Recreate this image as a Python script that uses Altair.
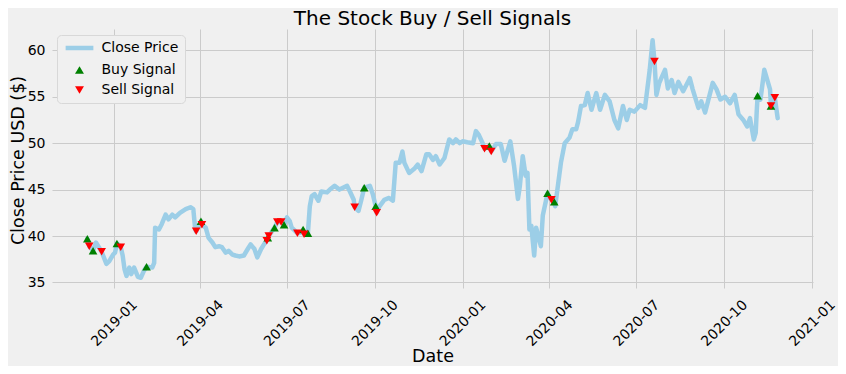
import altair as alt
import pandas as pd

# ---- data ----
line_dates = [
    "2018-12-04", "2018-12-06", "2018-12-10", "2018-12-13", "2018-12-19", "2018-12-24", "2018-12-27",
    "2018-12-31", "2019-01-02", "2019-01-04", "2019-01-08", "2019-01-10", "2019-01-12", "2019-01-14",
    "2019-01-17", "2019-01-19", "2019-01-22", "2019-01-26", "2019-01-29", "2019-02-01", "2019-02-04",
    "2019-02-10", "2019-02-12", "2019-02-13", "2019-02-17", "2019-02-20", "2019-02-24", "2019-02-27",
    "2019-03-03", "2019-03-06", "2019-03-11", "2019-03-17", "2019-03-22", "2019-03-25", "2019-03-27",
    "2019-03-28", "2019-04-02", "2019-04-03", "2019-04-07", "2019-04-10", "2019-04-14", "2019-04-17",
    "2019-04-21", "2019-04-24", "2019-04-28", "2019-05-01", "2019-05-05", "2019-05-08", "2019-05-12",
    "2019-05-17", "2019-05-21", "2019-05-24", "2019-05-28", "2019-05-31", "2019-06-04", "2019-06-07",
    "2019-06-10", "2019-06-11", "2019-06-12", "2019-06-18", "2019-06-21", "2019-06-25", "2019-06-28",
    "2019-07-01", "2019-07-04", "2019-07-06", "2019-07-12", "2019-07-17", "2019-07-18", "2019-07-19",
    "2019-07-23", "2019-07-25", "2019-07-27", "2019-07-30", "2019-08-03", "2019-08-06", "2019-08-12",
    "2019-08-15", "2019-08-20", "2019-08-25", "2019-09-02", "2019-09-05", "2019-09-09", "2019-09-10",
    "2019-09-14", "2019-09-17", "2019-09-20", "2019-09-26", "2019-09-29", "2019-10-02", "2019-10-03",
    "2019-10-06", "2019-10-11", "2019-10-16", "2019-10-20", "2019-10-23", "2019-10-27", "2019-10-30",
    "2019-11-01", "2019-11-06", "2019-11-12", "2019-11-15", "2019-11-19", "2019-11-24", "2019-11-27",
    "2019-12-01", "2019-12-04", "2019-12-08", "2019-12-13", "2019-12-18", "2019-12-22", "2019-12-25",
    "2019-12-29", "2020-01-01", "2020-01-06", "2020-01-12", "2020-01-15", "2020-01-18", "2020-01-22",
    "2020-01-24", "2020-01-29", "2020-01-31", "2020-02-05", "2020-02-10", "2020-02-14", "2020-02-20",
    "2020-02-24", "2020-02-28", "2020-03-01", "2020-03-04", "2020-03-07", "2020-03-09", "2020-03-11",
    "2020-03-13", "2020-03-16", "2020-03-18", "2020-03-23", "2020-03-25", "2020-03-30", "2020-04-03",
    "2020-04-06", "2020-04-07", "2020-04-13", "2020-04-17", "2020-04-22", "2020-04-25", "2020-04-29",
    "2020-05-01", "2020-05-04", "2020-05-08", "2020-05-11", "2020-05-15", "2020-05-20", "2020-05-24",
    "2020-05-29", "2020-06-03", "2020-06-08", "2020-06-12", "2020-06-17", "2020-06-21", "2020-06-24",
    "2020-06-29", "2020-07-05", "2020-07-10", "2020-07-15", "2020-07-18", "2020-07-20", "2020-07-22",
    "2020-07-25", "2020-07-31", "2020-08-03", "2020-08-07", "2020-08-10", "2020-08-14", "2020-08-19",
    "2020-08-26", "2020-08-29", "2020-09-04", "2020-09-07", "2020-09-11", "2020-09-14", "2020-09-19",
    "2020-09-23", "2020-09-27", "2020-10-02", "2020-10-07", "2020-10-12", "2020-10-16", "2020-10-21",
    "2020-10-25", "2020-10-28", "2020-11-01", "2020-11-03", "2020-11-04", "2020-11-05", "2020-11-08",
    "2020-11-12", "2020-11-14", "2020-11-18", "2020-11-19", "2020-11-23", "2020-11-26",
]
close_prices = [
    39.7, 38.9, 38.4, 39.3, 38.3, 37.0, 37.3,
    38.0, 38.2, 39.2, 38.8, 37.9, 36.4, 35.7,
    36.6, 35.9, 36.6, 35.6, 35.5, 36.2, 36.7,
    36.6, 37.1, 40.9, 40.7, 41.3, 42.3, 41.8,
    42.3, 42.0, 42.5, 42.9, 43.1, 42.9, 40.7,
    40.5, 41.6, 41.2, 40.9, 39.8, 39.3, 38.8,
    38.9, 38.8, 38.2, 38.4, 38.0, 37.9, 37.8,
    37.9, 38.6, 39.1, 38.6, 37.7, 38.6, 39.1,
    39.5, 39.8, 40.0, 40.9, 41.5, 41.5, 41.2,
    42.0, 41.6, 40.9, 40.3, 40.4, 40.7, 40.2,
    40.3, 43.2, 44.3, 44.5, 43.8, 44.8, 44.7,
    45.0, 45.4, 45.0, 45.4, 44.8, 43.9, 43.1,
    42.7, 43.9, 45.2, 45.4, 44.5, 43.2, 42.5,
    43.2, 43.9, 44.1, 43.8, 47.9, 47.9, 49.1,
    47.9, 46.8, 47.3, 47.7, 47.0, 48.8, 48.8,
    48.2, 48.6, 47.7, 48.4, 50.4, 50.0, 50.4,
    50.0, 50.2, 50.1, 50.0, 51.3, 50.9, 50.0,
    49.4, 49.7, 49.1, 49.9, 49.9, 48.1, 50.2,
    47.5, 44.0, 45.4, 48.6, 46.5, 46.8, 40.7,
    41.1, 37.9, 40.9, 38.9, 42.2, 44.6, 43.9,
    43.7, 43.2, 47.9, 50.0, 50.6, 51.5, 51.5,
    52.3, 54.0, 54.1, 55.4, 53.6, 55.4, 53.6,
    55.2, 54.5, 52.5, 51.6, 54.0, 52.5, 53.6,
    53.4, 54.1, 53.8, 57.9, 61.1, 58.8, 55.2,
    56.5, 57.9, 55.9, 56.8, 55.4, 56.6, 55.6,
    57.0, 55.8, 53.8, 54.5, 53.3, 54.5, 56.5,
    55.8, 54.7, 55.0, 54.3, 55.2, 53.1, 52.5,
    51.8, 52.7, 50.4, 51.1, 53.3, 55.1, 54.7,
    57.9, 57.2, 55.8, 54.0, 54.9, 52.7,
]

buy_dates = [
    "2018-12-04", "2018-12-10", "2019-01-04", "2019-02-04", "2019-04-02", "2019-06-11",
    "2019-06-18", "2019-06-28", "2019-07-18", "2019-07-23", "2019-09-20", "2019-10-02",
    "2020-01-29", "2020-03-30", "2020-04-06", "2020-11-05", "2020-11-19",
]
buy_prices = [
    39.7, 38.4, 39.2, 36.7, 41.6, 39.8,
    40.9, 41.2, 40.7, 40.3, 45.2, 43.2,
    49.7, 44.6, 43.7, 55.1, 54.0,
]
sell_dates = [
    "2018-12-06", "2018-12-19", "2019-01-08", "2019-03-28", "2019-04-03", "2019-06-10",
    "2019-06-12", "2019-06-21", "2019-06-25", "2019-07-12", "2019-07-19", "2019-09-10",
    "2019-10-03", "2020-01-24", "2020-01-31", "2020-04-03", "2020-07-20", "2020-11-19",
    "2020-11-23",
]
sell_prices = [
    38.9, 38.3, 38.8, 40.5, 41.2, 39.5,
    40.0, 41.5, 41.5, 40.3, 40.2, 43.1,
    42.5, 49.4, 49.1, 43.9, 58.8, 54.0,
    54.9,
]

series_names = ["Close Price", "Buy Signal", "Sell Signal"]
series_colors = ["#9ccee7", "#008000", "#ff0000"]
series_shapes = ["M-3.1,0L3.1,0", "triangle-up", "triangle-down"]
y_ticks = [35, 40, 45, 50, 55, 60]

# ---- tables ----
line_df = pd.DataFrame({"Date": pd.to_datetime(line_dates), "Price": close_prices,
                        "Series": "Close Price"})
buy_df = pd.DataFrame({"Date": pd.to_datetime(buy_dates), "Price": buy_prices,
                       "Series": "Buy Signal"})
sell_df = pd.DataFrame({"Date": pd.to_datetime(sell_dates), "Price": sell_prices,
                        "Series": "Sell Signal"})
pts_df = pd.concat([buy_df, sell_df], ignore_index=True)

FONT = "DejaVu Sans"

x_ticks = [alt.DateTime(year=y, month=m, date=1)
           for y, m in [(2019, 1), (2019, 4), (2019, 7), (2019, 10), (2020, 1),
                        (2020, 4), (2020, 7), (2020, 10), (2021, 1)]]

x_scale = alt.Scale(domain=[alt.DateTime(year=2018, month=10, date=28),
                            alt.DateTime(year=2021, month=1, date=2)])
y_scale = alt.Scale(domain=[34.4, 62.3], nice=False, zero=False)

x_axis = alt.Axis(values=x_ticks, format="%Y-%m", labelAngle=315, labelAlign="center",
                  labelBaseline="middle", labelPadding=35, ticks=False, domain=False,
                  labelOverlap=False, labelFlush=False,
                  titleAnchor="middle", titleAlign="center", titleBaseline="alphabetic",
                  titleX=380.5, titleY=73)
y_axis = alt.Axis(values=y_ticks, ticks=False, domain=False, labelPadding=7,
                  titleAlign="center", titleBaseline="alphabetic", titleAngle=270,
                  titleX=-29, titleY=131)

color_scale = alt.Scale(domain=series_names, range=series_colors)
shape_scale = alt.Scale(domain=series_names, range=series_shapes)

legend = alt.Legend(
    title=None, orient="none", legendX=5, legendY=6,
    fillColor="#f0f0f0", strokeColor="#d8d8d8", cornerRadius=4, padding=6,
    labelFont=FONT, labelFontSize=14, labelColor="#000000",
    symbolSize=80, symbolOffset=9.5, labelOffset=15, rowPadding=6,
    symbolStrokeColor=alt.ExprRef(expr="datum.value === 'Close Price' ? '#9ccee7' : 'transparent'"),
    symbolStrokeWidth=alt.ExprRef(expr="datum.value === 'Close Price' ? 4.5 : 0"),
    symbolOpacity=1,
)

line = alt.Chart(line_df).mark_line(strokeWidth=4.5, strokeJoin="round", strokeCap="round").encode(
    x=alt.X("Date:T", scale=x_scale, axis=x_axis, title="Date"),
    y=alt.Y("Price:Q", scale=y_scale, axis=y_axis, title="Close Price USD ($)"),
    color=alt.Color("Series:N", scale=color_scale, legend=legend),
)

points = alt.Chart(pts_df).mark_point(filled=True, size=75, opacity=1).encode(
    x=alt.X("Date:T", scale=x_scale),
    y=alt.Y("Price:Q", scale=y_scale),
    color=alt.Color("Series:N", scale=color_scale, legend=legend),
    shape=alt.Shape("Series:N", scale=shape_scale, legend=legend),
)

chart = alt.layer(line, points).properties(
    width=761, height=259,
    title=alt.TitleParams("The Stock Buy / Sell Signals", font=FONT, fontSize=20,
                          fontWeight="normal", color="#000000", anchor="middle", offset=0),
    autosize=alt.AutoSizeParams(type="none"),
    padding={"left": 44, "top": 21, "right": 25, "bottom": 78},
    background="#f0f0f0",
).configure_view(stroke=None).configure_axis(
    labelFont=FONT, labelFontSize=14, labelColor="#000000",
    titleFont=FONT, titleFontSize=17.5, titleFontWeight="normal", titleColor="#000000",
    gridColor="#cbcbcb", gridWidth=1,
)

chart.save("out.html", embed_options={"renderer": "svg", "actions": False})
